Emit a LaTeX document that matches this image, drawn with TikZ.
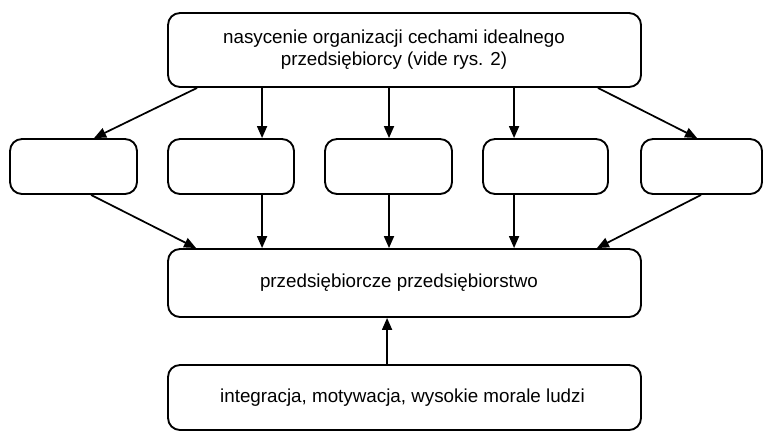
\documentclass[tikz,border=0pt]{standalone}
\usepackage{fontspec}
\setmainfont{Liberation Sans}
\usetikzlibrary{calc,arrows.meta}
\begin{document}
\begin{tikzpicture}[x=0.75pt,y=-0.75pt,
  box/.style={draw,line width=1.4pt,rounded corners=9pt,inner sep=0pt},
  txt/.style={inner sep=0pt,align=center,font=\fontsize{14.1pt}{16.5pt}\selectfont},
  arr/.style={line width=1.3pt,-{Triangle[length=9pt,width=7.5pt]}}]
\useasboundingbox (0,0) rectangle (763,432);
% boxes
\node[box,minimum width=354.75pt,minimum height=55.5pt] (top) at (404.5,50) {};
\node[box,minimum width=95.25pt,minimum height=41.25pt] (b1) at (73.5,166.5) {};
\node[box,minimum width=94.5pt,minimum height=41.25pt] (b2) at (231,166.5) {};
\node[box,minimum width=95.25pt,minimum height=41.25pt] (b3) at (388.5,166.5) {};
\node[box,minimum width=93.75pt,minimum height=41.25pt] (b4) at (545.5,166.5) {};
\node[box,minimum width=90.75pt,minimum height=41.25pt] (b5) at (701.5,166.5) {};
\node[box,minimum width=354.75pt,minimum height=51pt] (mid) at (404.5,283) {};
\node[box,minimum width=354.75pt,minimum height=48.75pt] (bot) at (404.5,397.5) {};
% texts
\node[txt] (topt) at ($(top.center)+(-10.5,0)$) {nasycenie organizacji cechami idealnego\\przedsiębiorcy (vide rys. 2)};
\node[txt] (midt) at ($(mid.center)+(-5.5,0)$) {przedsiębiorcze przedsiębiorstwo};
\node[txt] (bott) at ($(bot.center)+(-2,0)$) {integracja, motywacja, wysokie morale ludzi};
% helper coordinates
\coordinate (c2) at ($(b2.north west)+(95,0)$);
\coordinate (c3) at ($(b3.north)+(0.5,0)$);
\coordinate (c4) at ($(b4.north west)+(32,0)$);
\coordinate (cb) at ($(bot.north west)+(220,0)$);
% arrows top -> middle row
\draw[arr] ($(top.south west)+(30,0)$) -- ($(b1.north west)+(85,0)$);
\draw[arr] (c2 |- top.south) -- (c2);
\draw[arr] (c3 |- top.south) -- (c3);
\draw[arr] (c4 |- top.south) -- (c4);
\draw[arr] ($(top.south east)+(-44,0)$) -- ($(b5.north west)+(57,0)$);
% arrows middle row -> mid
\draw[arr] ($(b1.south west)+(82,0)$) -- ($(mid.north west)+(29,0)$);
\draw[arr] (c2 |- b2.south) -- (c2 |- mid.north);
\draw[arr] (c3 |- b3.south) -- (c3 |- mid.north);
\draw[arr] (c4 |- b4.south) -- (c4 |- mid.north);
\draw[arr] ($(b5.south west)+(61,0)$) -- ($(mid.north east)+(-45,0)$);
% bottom -> mid
\draw[arr] (cb) -- (cb |- mid.south);
\end{tikzpicture}
\end{document}
